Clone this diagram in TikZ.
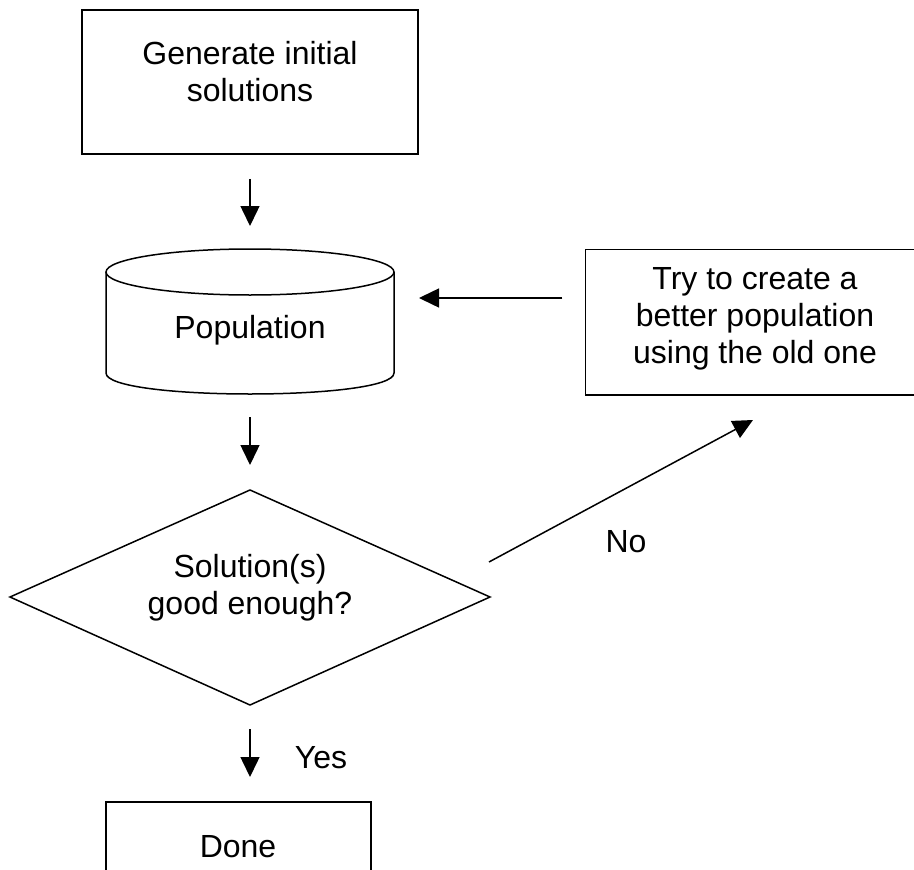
\documentclass[tikz,border=0pt]{standalone}
\usepackage{fontspec}
\setmainfont{Liberation Sans}
\usetikzlibrary{arrows.meta}
\begin{document}
\begin{tikzpicture}[x=1pt,y=-1pt, line width=1.5pt,
  lbl/.style={font=\fontsize{32}{37}\selectfont, align=center, inner sep=0pt},
  arr/.style={-{Triangle[length=20pt,width=19pt]}},
  box/.style={draw, rectangle, inner sep=0pt}]
\useasboundingbox (0,0) rectangle (914,870);
\clip (0,0) rectangle (914,870);
% boxes
\node[box, minimum width=336pt, minimum height=144pt] (gen) at (250,82) {};
\node[lbl] (gent) at (250,72) {Generate initial\\solutions};
\node[rectangle, inner sep=0pt, minimum width=360pt, minimum height=144pt] (try) at (766,322) {};
\draw (try.north east) -- (try.north west) -- (try.south west) -- (try.south east);
\node[lbl] (tryt) at (755,319) {Try to create a\\better population\\using the old one};
\node[box, minimum width=265pt, minimum height=140pt] (done) at (238.5,872) {};
\node[lbl, anchor=base] (donet) at (238,857) {Done};
% cylinder
\coordinate (cylT) at (250,249);
\coordinate (cylB) at (250,394);
\coordinate (cylR) at (394,298);
\draw (250,272) ellipse [x radius=144, y radius=23];
\draw (106,272) -- (106,373) .. controls (106,401) and (394,401) .. (394,373) -- (394,272);
\node[lbl, anchor=base] (pop) at (250,338) {Population};
% diamond
\coordinate (dT) at (250,490);
\coordinate (dB) at (250,705);
\coordinate (dL) at (10,597);
\coordinate (dR) at (490,597);
\coordinate (doneIn) at (250,777);
\draw (dT) -- (dR) -- (dB) -- (dL) -- cycle;
\node[lbl] (dec) at (250,588) {Solution(s)\\good enough?};
% arrows
\draw[arr] ([yshift=-24pt]gen.south) -- ([yshift=23pt]cylT);
\draw[arr] ([yshift=-23pt]cylB) -- ([yshift=25pt]dT);
\draw[arr] ([yshift=-24pt]dB) -- (doneIn);
\draw[arr] ([shift={(-23,-24)}]try.west) -- ([xshift=25pt]cylR);
\draw[arr] ([shift={(-1,-35)}]dR) -- (753,420);
% labels
\node[lbl, anchor=base] (yes) at (321,768) {Yes};
\node[lbl, anchor=base] (no) at (626,552) {No};
\end{tikzpicture}
\end{document}
